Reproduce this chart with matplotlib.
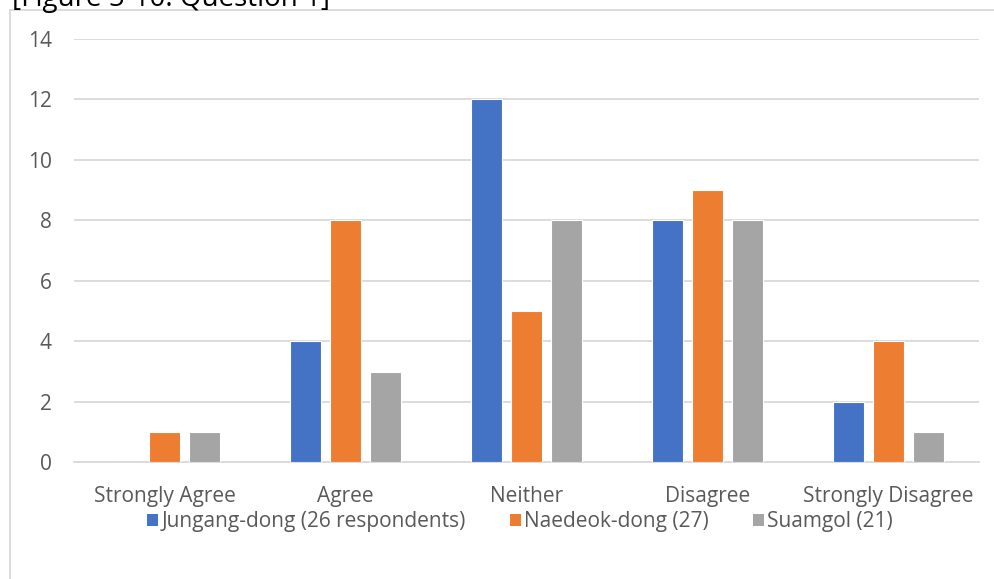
import matplotlib.pyplot as plt
from matplotlib.patches import Patch
from matplotlib.lines import Line2D
import numpy as np

categories = ["Strongly Agree", "Agree", "Neither", "Disagree", "Strongly Disagree"]
jungang = [0, 4, 12, 8, 2]
naedeok = [1, 8, 5, 9, 4]
suamgol = [1, 3, 8, 8, 1]
series_names = ["Jungang-dong (26 respondents)", "Naedeok-dong (27)", "Suamgol (21)"]
colors = ["#4472C4", "#ED7D31", "#A5A5A5"]
yticks = [0, 2, 4, 6, 8, 10, 12, 14]

plt.rcParams["font.family"] = ["Open Sans", "DejaVu Sans"]

fig = plt.figure(figsize=(9.95, 5.79), dpi=100)
ax = fig.add_axes([74 / 995, 1 - 462.3 / 579, 905 / 995, (462.3 - 39) / 579])

x = np.arange(len(categories))
step = 0.221
width = 0.174
for i, (vals, c) in enumerate(zip([jungang, naedeok, suamgol], colors)):
    ax.bar(x + (i - 1) * step, vals, width, color=c, edgecolor="white",
           linewidth=0.8, zorder=3)

ax.set_xlim(-0.5, len(categories) - 0.5)
ax.set_ylim(0, 14)
ax.set_yticks(yticks)
ax.set_xticks(x)
ax.set_xticklabels(categories)
ax.yaxis.grid(True, color="#d9d9d9", linewidth=1.3, zorder=0)
ax.tick_params(axis="both", length=0, labelsize=15, labelcolor="#595959")
ax.tick_params(axis="y", pad=16)
ax.tick_params(axis="x", pad=17)
for s in ["top", "right", "left"]:
    ax.spines[s].set_visible(False)
ax.spines["bottom"].set_color("#d9d9d9")
ax.spines["bottom"].set_linewidth(1.3)

# chart border (only left and top visible in the crop)
fig.add_artist(Line2D([10 / 995, 10 / 995], [0, 1 - 10 / 579], color="#d9d9d9", lw=1.3))
fig.add_artist(Line2D([10 / 995, 1], [1 - 10 / 579, 1 - 10 / 579], color="#d9d9d9", lw=1.3))

# cut-off caption above the chart
fig.text(12 / 995, 1 - 6 / 579, "[Figure 5-10: Question 1]", fontsize=20,
         color="black", va="baseline", ha="left")

handles = [Patch(facecolor=c, edgecolor="none") for c in colors]
fig.legend(handles, series_names, loc="center", bbox_to_anchor=(520 / 995, 1 - 522 / 579),
           ncol=3, frameon=False, fontsize=15, labelcolor="#595959",
           handlelength=0.55, handleheight=0.55, handletextpad=0.15, columnspacing=2.1)

fig.savefig("out.png", dpi=100)
